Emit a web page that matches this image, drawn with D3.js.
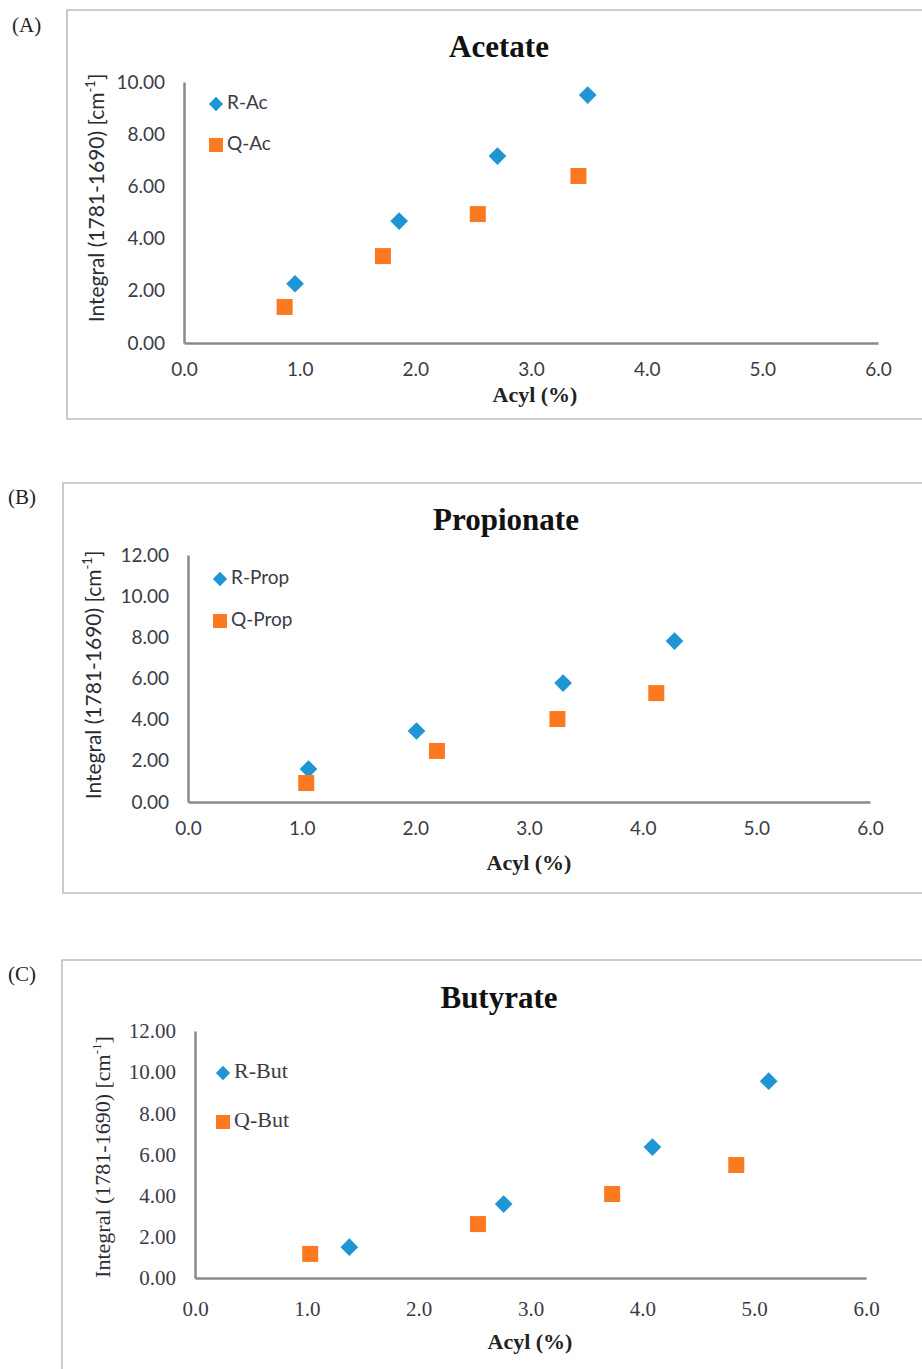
<!DOCTYPE html>
<html>
<head>
<meta charset="utf-8">
<script src="https://cdn.jsdelivr.net/npm/d3@7"></script>
<style>
  body { margin: 0; background: #fff; }
  svg { display: block; }
</style>
</head>
<body>
<div id="chart"></div>
<script>
// data (x = Acyl %, y = integral)
var acR_x = [0.96, 1.86, 2.71, 3.49];
var acR_y = [2.27, 4.67, 7.16, 9.50];
var acQ_x = [0.87, 1.72, 2.54, 3.41];
var acQ_y = [1.38, 3.33, 4.94, 6.40];

var propR_x = [1.06, 2.01, 3.30, 4.28];
var propR_y = [1.60, 3.45, 5.78, 7.82];
var propQ_x = [1.04, 2.19, 3.25, 4.12];
var propQ_y = [0.92, 2.48, 4.03, 5.29];

var butR_x = [1.38, 2.76, 4.09, 5.13];
var butR_y = [1.50, 3.59, 6.36, 9.56];
var butQ_x = [1.03, 2.53, 3.73, 4.84];
var butQ_y = [1.17, 2.62, 4.08, 5.49];

var titles = ['Acetate', 'Propionate', 'Butyrate'];
var panelLetters = ['(A)', '(B)', '(C)'];
var seriesNames = [['R-Ac', 'Q-Ac'], ['R-Prop', 'Q-Prop'], ['R-But', 'Q-But']];
var yMaxes = [10, 12, 12];
var xTicks = [0, 1, 2, 3, 4, 5, 6];
var xLabel = 'Acyl (%)';

var blue = '#1f95d3';
var orange = '#fb7a21';
var sans = "Lato, 'Open Sans', sans-serif";
var serif = "'Liberation Serif', 'DejaVu Serif', serif";

var chart_width = 922;
var chart_height = 1369;

var svg = d3.select('#chart')
            .append('svg')
            .attr('width', chart_width)
            .attr('height', chart_height);

// layout of each panel (pixels)
var layouts = [
  {fx: 67, fy: 10, fb: 419, x0: 184, x1: 878, top: 82, bottom: 343,
   titleX: 499, titleY: 50, letX: 12, letY: 32, xtY: 372, xlabX: 535, xlabY: 397,
   ylabX: 99, ylabY: 198, legX: 216, legY: [104, 145],
   tickFont: sans, tickSize: 19, ylabFont: sans, ylabSize: 21, legSize: 19},
  {fx: 63, fy: 483, fb: 893, x0: 188, x1: 870, top: 555, bottom: 802,
   titleX: 506, titleY: 523, letX: 8, letY: 504, xtY: 831, xlabX: 529, xlabY: 865,
   ylabX: 96, ylabY: 675, legX: 220, legY: [579, 621],
   tickFont: sans, tickSize: 19, ylabFont: sans, ylabSize: 21, legSize: 19},
  {fx: 62, fy: 960, fb: 1390, x0: 195, x1: 866, top: 1031, bottom: 1278,
   titleX: 499, titleY: 1001, letX: 8, letY: 981, xtY: 1310, xlabX: 530, xlabY: 1344,
   ylabX: 105, ylabY: 1157, legX: 223, legY: [1073, 1122],
   tickFont: serif, tickSize: 21, ylabFont: serif, ylabSize: 22, legSize: 22}
];

var panelData = [
  [[acR_x, acR_y], [acQ_x, acQ_y]],
  [[propR_x, propR_y], [propQ_x, propQ_y]],
  [[butR_x, butR_y], [butQ_x, butQ_y]]
];

function toPoints(xs, ys){
  return xs.map(function(x, i){ return {x: x, y: ys[i]}; });
}

var diamond = d3.symbol().type(d3.symbolDiamond2);

layouts.forEach(function(L, p){
  var g = svg.append('g');

  // frame (right edge runs off the page)
  g.append('path')
   .attr('d', 'M' + (chart_width + 5) + ',' + L.fy + 'H' + L.fx + 'V' + L.fb + 'H' + (chart_width + 5))
   .attr('fill', 'none')
   .attr('stroke', '#bdbdbd')
   .attr('stroke-width', 1.6);

  g.append('text')
   .attr('x', L.letX).attr('y', L.letY)
   .style('font-family', serif).style('font-size', '21px')
   .attr('fill', '#222')
   .text(panelLetters[p]);

  g.append('text')
   .attr('x', L.titleX).attr('y', L.titleY)
   .attr('text-anchor', 'middle').attr('dominant-baseline', 'middle')
   .style('font-family', serif).style('font-size', '31px').style('font-weight', 'bold')
   .attr('fill', '#111')
   .text(titles[p]);

  var x = d3.scaleLinear().domain([0, 6]).range([L.x0, L.x1]);
  var y = d3.scaleLinear().domain([0, yMaxes[p]]).range([L.bottom, L.top]);

  var xAxis = d3.axisBottom(x).tickValues(xTicks).tickSize(0).tickPadding(L.xtY - L.bottom - 9)
                .tickFormat(d3.format('.1f'));
  var yAxis = d3.axisLeft(y).ticks(yMaxes[p] / 2).tickSize(0).tickPadding(19)
                .tickFormat(d3.format('.2f'));

  var gx = g.append('g').attr('transform', 'translate(0,' + L.bottom + ')').call(xAxis);
  var gy = g.append('g').attr('transform', 'translate(' + L.x0 + ',0)').call(yAxis);

  [gx, gy].forEach(function(a){
    a.select('.domain').attr('stroke', '#8a8a8a').attr('stroke-width', 2.5);
    a.selectAll('text')
     .style('font-family', L.tickFont).style('font-size', L.tickSize + 'px')
     .attr('fill', '#3b3b48');
  });
  gx.selectAll('text').attr('dy', '0.71em');

  g.append('text')
   .attr('x', L.xlabX).attr('y', L.xlabY)
   .attr('text-anchor', 'middle').attr('dominant-baseline', 'middle')
   .style('font-family', serif).style('font-size', '22px').style('font-weight', 'bold')
   .attr('fill', '#222')
   .text(xLabel);

  var yl = g.append('text')
   .attr('transform', 'translate(' + L.ylabX + ',' + L.ylabY + ') rotate(-90)')
   .attr('text-anchor', 'middle').attr('dominant-baseline', 'middle')
   .style('font-family', L.ylabFont).style('font-size', L.ylabSize + 'px')
   .attr('fill', '#2b2b33');
  yl.append('tspan').text('Integral (1781-1690) [cm');
  yl.append('tspan').attr('dy', -7).style('font-size', '13px').text('-1');
  yl.append('tspan').attr('dy', 7).text(']');

  // points
  var series = panelData[p];
  g.selectAll('.r').data(toPoints(series[0][0], series[0][1])).enter()
   .append('path')
   .attr('transform', function(d){ return 'translate(' + x(d.x) + ',' + y(d.y) + ')'; })
   .attr('d', diamond.size(200))
   .attr('fill', blue);
  g.selectAll('.q').data(toPoints(series[1][0], series[1][1])).enter()
   .append('rect')
   .attr('x', function(d){ return x(d.x) - 8; })
   .attr('y', function(d){ return y(d.y) - 8; })
   .attr('width', 16).attr('height', 16)
   .attr('fill', orange);

  // legend
  g.append('path')
   .attr('transform', 'translate(' + L.legX + ',' + L.legY[0] + ')')
   .attr('d', diamond.size(130))
   .attr('fill', blue);
  g.append('rect')
   .attr('x', L.legX - 7).attr('y', L.legY[1] - 7)
   .attr('width', 14).attr('height', 14)
   .attr('fill', orange);
  seriesNames[p].forEach(function(name, i){
    g.append('text')
     .attr('x', L.legX + 11).attr('y', L.legY[i])
     .attr('dominant-baseline', 'middle')
     .style('font-family', L.tickFont).style('font-size', L.legSize + 'px')
     .attr('fill', '#3b3b48')
     .text(name);
  });
});
</script>
</body>
</html>
